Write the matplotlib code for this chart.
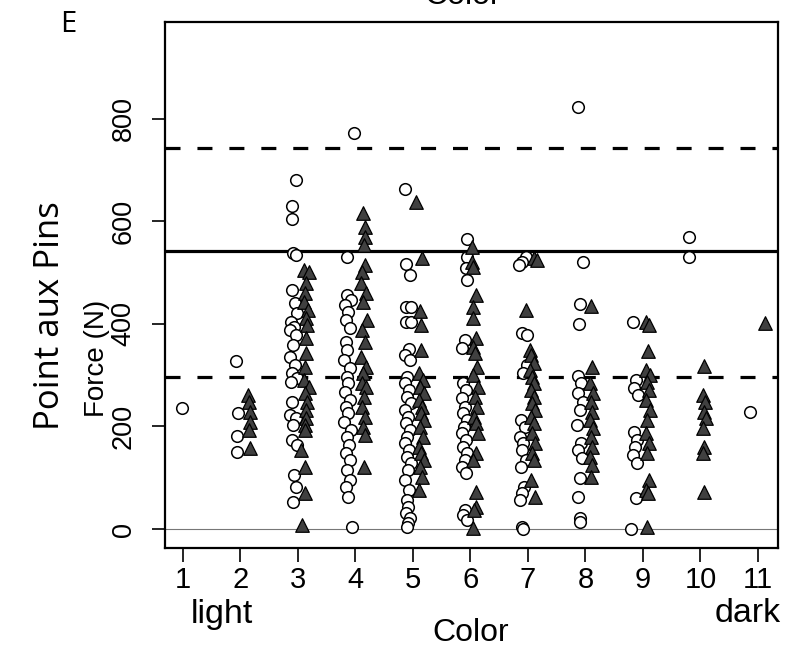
import matplotlib
matplotlib.use("Agg")
import matplotlib.pyplot as plt

# force (N) per colour class, open circles and filled triangles
colors = [1, 2, 3, 4, 5, 6, 7, 8, 9, 10, 11]

circ_force = {
    1: [236],
    2: [328, 226, 181, 150],
    3: [681, 630, 605, 539, 535, 466, 441, 421, 404, 394, 388, 379, 359, 336,
        320, 304, 295, 287, 248, 222, 216, 203, 174, 164, 105, 82, 53],
    4: [773, 531, 457, 447, 437, 423, 408, 392, 365, 349, 330, 314, 297, 285,
        267, 252, 238, 226, 209, 193, 180, 164, 148, 135, 115, 96, 82, 62, 4],
    5: [663, 517, 496, 433, 433, 404, 404, 352, 340, 330, 297, 285, 271, 258,
        246, 232, 219, 207, 193, 180, 168, 154, 141, 129, 115, 96, 76, 57, 43,
        31, 21, 12, 4],
    6: [566, 531, 509, 486, 369, 353, 285, 271, 256, 238, 226, 213, 199, 187,
        174, 160, 148, 135, 121, 109, 37, 28, 18],
    7: [531, 521, 515, 382, 378, 320, 304, 213, 199, 180, 168, 154, 135, 121,
        82, 70, 57, 4, 0],
    8: [823, 521, 439, 400, 298, 285, 265, 248, 232, 203, 168, 154, 139, 100,
        62, 21, 14],
    9: [404, 291, 275, 261, 189, 174, 160, 144, 129, 60, 0],
    10: [570, 531],
    11: [228],
}
circ_dx = {
    1: [-0.02],
    2: [-0.07, -0.04, -0.05, -0.06],
    3: [-0.03, -0.1, -0.1, -0.09, -0.04, -0.1, -0.05, -0.02, -0.12, -0.07,
        -0.14, -0.03, -0.08, -0.13, -0.05, -0.1, -0.02, -0.12, -0.1, -0.14,
        -0.04, -0.09, -0.11, -0.02, -0.06, -0.03, -0.08],
    4: [-0.02, -0.14, -0.15, -0.08, -0.18, -0.12, -0.16, -0.1, -0.17, -0.14,
        -0.2, -0.09, -0.15, -0.12, -0.18, -0.1, -0.16, -0.13, -0.19, -0.08,
        -0.15, -0.11, -0.17, -0.09, -0.14, -0.1, -0.16, -0.12, -0.06],
    5: [-0.13, -0.12, -0.05, -0.12, -0.04, -0.12, -0.04, -0.06, -0.13, -0.05,
        -0.1, -0.14, -0.07, -0.11, -0.03, -0.13, -0.08, -0.12, -0.05, -0.1,
        -0.14, -0.07, -0.11, -0.04, -0.09, -0.13, -0.06, -0.1, -0.08, -0.12,
        -0.05, -0.09, -0.1],
    6: [-0.05, -0.06, -0.08, -0.05, -0.1, -0.14, -0.12, -0.07, -0.15, -0.09,
        -0.13, -0.06, -0.11, -0.15, -0.08, -0.12, -0.05, -0.1, -0.14, -0.07,
        -0.09, -0.12, -0.06],
    7: [-0.04, -0.1, -0.15, -0.1, -0.02, -0.02, -0.09, -0.12, -0.05, -0.13,
        -0.08, -0.11, -0.04, -0.12, -0.07, -0.1, -0.13, -0.1, -0.08],
    8: [-0.12, -0.05, -0.1, -0.11, -0.12, -0.07, -0.13, -0.05, -0.1, -0.14,
        -0.08, -0.12, -0.06, -0.1, -0.13, -0.1, -0.09],
    9: [-0.18, -0.12, -0.16, -0.09, -0.15, -0.1, -0.13, -0.17, -0.11, -0.12,
        -0.2],
    10: [-0.2, -0.2],
    11: [-0.14],
}

tri_force = {
    2: [261, 248, 228, 209, 193, 158],
    3: [505, 502, 480, 460, 443, 427, 412, 398, 373, 343, 316, 291, 277, 265,
        248, 232, 216, 203, 193, 154, 121, 70, 8],
    4: [616, 589, 570, 554, 515, 502, 480, 460, 443, 408, 388, 365, 336, 316,
        304, 285, 277, 258, 238, 219, 199, 183, 121],
    5: [638, 529, 425, 398, 349, 304, 291, 277, 265, 252, 238, 226, 213, 199,
        180, 160, 148, 135, 121, 101, 76],
    6: [550, 521, 511, 457, 433, 412, 373, 355, 343, 316, 300, 277, 258, 238,
        219, 207, 187, 148, 135, 72, 43, 37, 2],
    7: [529, 525, 427, 349, 340, 324, 310, 297, 285, 271, 258, 246, 232, 219,
        207, 187, 168, 148, 135, 96, 62],
    8: [435, 316, 285, 265, 248, 228, 213, 197, 180, 160, 141, 125, 101],
    9: [404, 398, 347, 310, 300, 287, 271, 252, 232, 213, 187, 168, 148, 96,
        76, 70, 4],
    10: [318, 261, 248, 228, 216, 197, 160, 148, 72],
    11: [402],
}
tri_dx = {
    2: [0.14, 0.15, 0.16, 0.16, 0.15, 0.16],
    3: [0.1, 0.2, 0.15, 0.12, 0.1, 0.17, 0.14, 0.16, 0.15, 0.15, 0.12, 0.1,
        0.2, 0.13, 0.16, 0.14, 0.15, 0.12, 0.13, 0.06, 0.13, 0.13, 0.08],
    4: [0.13, 0.17, 0.16, 0.15, 0.17, 0.12, 0.1, 0.18, 0.14, 0.2, 0.12, 0.16,
        0.1, 0.18, 0.14, 0.12, 0.19, 0.15, 0.11, 0.17, 0.13, 0.16, 0.15],
    5: [0.05, 0.16, 0.13, 0.14, 0.14, 0.1, 0.18, 0.13, 0.2, 0.11, 0.16, 0.14,
        0.19, 0.12, 0.17, 0.1, 0.15, 0.2, 0.13, 0.16, 0.11],
    6: [0.03, 0.03, 0.05, 0.1, 0.05, 0.05, 0.1, 0.05, 0.08, 0.12, 0.05, 0.14,
        0.08, 0.12, 0.06, 0.1, 0.14, 0.09, 0.05, 0.1, 0.1, 0.06, 0.05],
    7: [0.1, 0.16, -0.03, 0.03, 0.06, 0.1, 0.04, 0.08, 0.1, 0.05, 0.1, 0.07,
        0.12, 0.06, 0.1, 0.08, 0.12, 0.07, 0.1, 0.05, 0.12],
    8: [0.1, 0.12, 0.08, 0.14, 0.1, 0.12, 0.08, 0.13, 0.09, 0.12, 0.08, 0.11,
        0.1],
    9: [0.06, 0.1, 0.09, 0.05, 0.12, 0.08, 0.1, 0.06, 0.12, 0.08, 0.05, 0.1,
        0.07, 0.11, 0.06, 0.09, 0.07],
    10: [0.07, 0.05, 0.08, 0.06, 0.09, 0.05, 0.07, 0.04, 0.07],
    11: [0.12],
}

lower_cut, upper_cut, middle = 297, 743, 542

plt.rcParams['font.family'] = ['Liberation Sans', 'DejaVu Sans']

fig = plt.figure(figsize=(7.91, 6.55), dpi=100)
ax = fig.add_axes([0.2086, 0.1634, 0.775, 0.803])

ax.axhline(0, color='#777777', lw=0.8, zorder=1)
ax.axhline(middle, color='black', lw=2.3, zorder=1)
for yv in (lower_cut, upper_cut):
    ax.axhline(yv, color='black', lw=2.3, dashes=(4.7, 5.3), zorder=1)

for c in colors:
    ys = circ_force.get(c, [])
    xs = [c + d for d in circ_dx.get(c, [])]
    ax.scatter(xs, ys, s=70, marker='o', facecolor='white',
               edgecolor='black', linewidth=1.1, zorder=3)
for c in colors:
    ys = tri_force.get(c, [])
    xs = [c + d for d in tri_dx.get(c, [])]
    ax.scatter(xs, ys, s=95, marker='^', facecolor='#404040',
               edgecolor='black', linewidth=0.9, zorder=4)

ax.set_xlim(0.69, 11.35)
ax.set_ylim(-37, 989)

ax.set_xticks(colors)
ax.set_xticklabels([str(c) for c in colors], fontsize=21)
ax.set_yticks([0, 200, 400, 600, 800])
ax.set_yticklabels(['0', '200', '400', '600', '800'], fontsize=19.5,
                   rotation=90, va='center')
ax.tick_params(axis='x', length=10, width=1.2, pad=3)
ax.tick_params(axis='y', length=9.5, width=1.2, pad=11)
for sp in ax.spines.values():
    sp.set_linewidth(1.6)

fig.text(222 / 791, 1 - 614 / 655, 'light', fontsize=24.5, ha='center',
         va='center')
fig.text(748 / 791, 1 - 614 / 655, 'dark', fontsize=24.5, ha='center',
         va='center')
fig.text(471 / 791, 1 - 633 / 655, 'Color', fontsize=23, ha='center',
         va='center')
fig.text(463 / 791, 1 + 4 / 655, 'Color', fontsize=23, ha='center',
         va='center')
fig.text(97 / 791, 1 - 358 / 655, 'Force (N)', fontsize=20, rotation=90,
         ha='center', va='center')
fig.text(50 / 791, 1 - 316 / 655, 'Point aux Pins', fontsize=25,
         rotation=90, ha='center', va='center', family=['Open Sans'])
fig.text(68 / 791, 1 - 25 / 655, 'E', fontsize=21, ha='center',
         va='center', family=['Open Sans'])

fig.savefig('out.png', dpi=100)
